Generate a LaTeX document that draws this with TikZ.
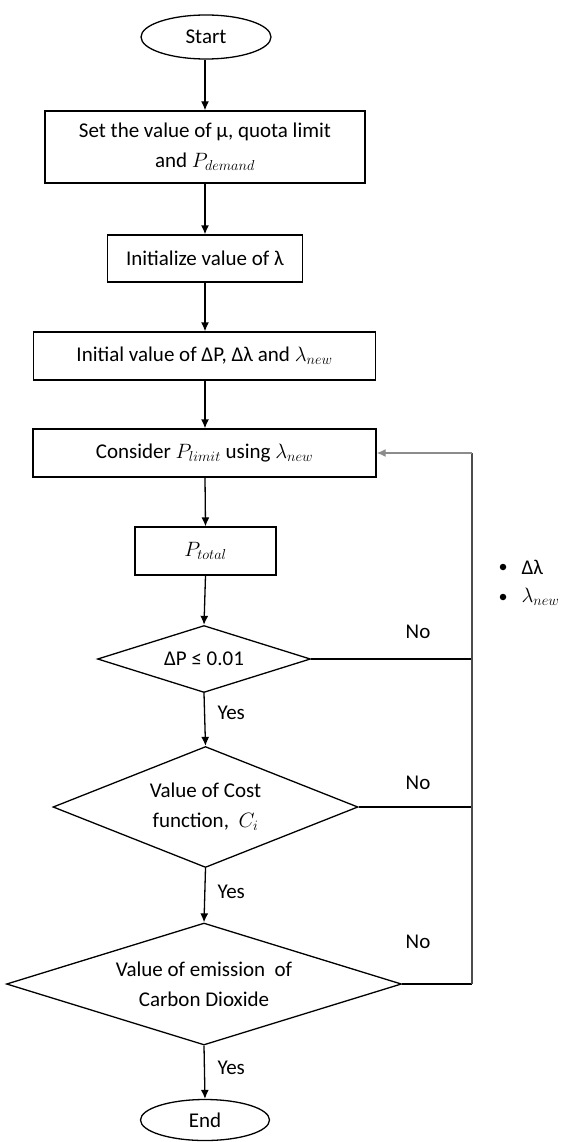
\documentclass[tikz,border=0pt]{standalone}
\usepackage{fontspec}
\setmainfont{Carlito}
\usetikzlibrary{positioning, arrows.meta, shapes.geometric}
\tikzset{
  term/.style={ellipse, draw, line width=1.3pt, minimum width=130pt, minimum height=44pt, inner sep=0pt},
  box/.style={rectangle, draw, line width=1.3pt, align=center, inner sep=0pt},
  dec/.style={diamond, draw, line width=1.3pt, align=center, inner sep=0pt},
  flow/.style={line width=1.3pt, -{Latex[length=9pt, width=8pt]}},
  nob/.style={line width=1.3pt},
  back/.style={line width=1.3pt, draw=black!70},
  backarr/.style={line width=1.3pt, draw=black!45, -{Latex[length=9pt, width=8pt]}},
  dot/.style={circle, fill, inner sep=0pt, minimum size=6.5pt},
}

\begin{document}
\begin{tikzpicture}[x=1pt, y=-1pt, font=\fontsize{21}{30}\selectfont]
\useasboundingbox (0,0) rectangle (565,1142);

% ── Main column ─────────────────────────────────────────────
\node[term] (start) at (206,37) {Start};
\node[box, minimum width=320pt, minimum height=72pt] (setv) at (205,147)
  {Set the value of μ, quota limit\\and $P_{demand}$};
\node[box, minimum width=195pt, minimum height=47pt] (initlam) at (205,258.5)
  {Initialize value of λ};
\node[box, minimum width=342pt, minimum height=48pt] (initdp) at (204.5,356)
  {Initial value of ΔP, Δλ and $\lambda_{new}$};
\node[box, minimum width=343pt, minimum height=48pt] (cons) at (204.5,453)
  {Consider $P_{limit}$ using $\lambda_{new}$};
\node[box, minimum width=141pt, minimum height=48pt] (ptot) at (205.5,551)
  {$P_{total}$};

% ── Decisions ───────────────────────────────────────────────
\node[dec, aspect=3.18, minimum width=213pt, minimum height=67pt] (dp) at (204,659)
  {ΔP ≤ 0.01};
\node[dec, aspect=2.52, minimum width=305pt, minimum height=121pt] (cost) at (205.5,807)
  {Value of Cost\\function, \ $C_i$};
\node[dec, aspect=3.24, minimum width=395pt, minimum height=122pt] (emis) at (204,984)
  {Value of emission \ of\\Carbon Dioxide};
\node[term, minimum width=129pt, minimum height=41pt] (fin) at (205,1120)
  {End};

% ── Labels ──────────────────────────────────────────────────
\node[anchor=west] (yes1) at (214,713) {Yes};
\node[anchor=west] (yes2) at (214,892) {Yes};
\node[anchor=west] (yes3) at (214,1068) {Yes};
\node (no1) at (418,632) {No};
\node (no2) at (418,783) {No};
\node (no3) at (418,942) {No};

\node[dot] (b1) at (503,567) {};
\node[dot] (b2) at (503,597) {};
\node[anchor=west] (dlam) at (518,567) {Δλ};
\node[anchor=west] (lnew) at (518,597) {$\lambda_{new}$};

% ── Flow ────────────────────────────────────────────────────
\coordinate (spine) at (205,0);
\draw[flow] (spine |- start.south) -- (spine |- setv.north);
\draw[flow] (spine |- setv.south) -- (initlam.north);
\draw[flow] (initlam.south) -- (spine |- initdp.north);
\draw[flow] (spine |- initdp.south) -- (spine |- cons.north);
\draw[flow] (spine |- cons.south) -- (ptot.north);
\draw[flow] (ptot.south) -- (dp.north);
\draw[flow] (dp.south) -- (cost.north);
\draw[flow] (cost.south) -- (emis.north);
\draw[flow] (emis.south) -- (fin.north);

% ── Feedback loop ───────────────────────────────────────────
\coordinate (loop) at (472,0);
\foreach \d in {dp, cost, emis} {
  \draw[nob] (\d.east) -- (loop |- \d.east);
}
\draw[back] (loop |- emis.east) -- (loop |- cons.east);
\draw[backarr] (loop |- cons.east) -- (cons.east);

\end{tikzpicture}
\end{document}
